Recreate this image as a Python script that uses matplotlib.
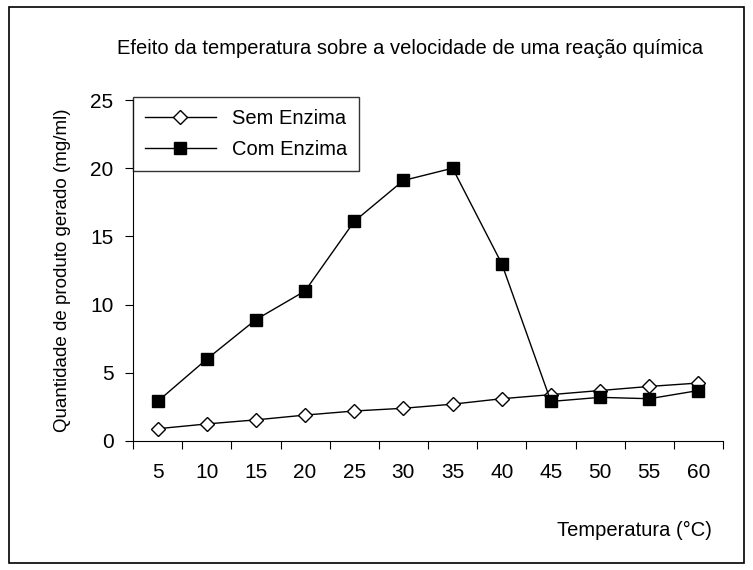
import matplotlib
matplotlib.use("Agg")
import matplotlib.pyplot as plt
import numpy as np

temps = [5, 10, 15, 20, 25, 30, 35, 40, 45, 50, 55, 60]
sem_enzima = [0.9, 1.25, 1.55, 1.9, 2.2, 2.4, 2.7, 3.1, 3.4, 3.7, 4.0, 4.25]
com_enzima = [2.9, 6.0, 8.9, 11.0, 16.1, 19.1, 20.0, 13.0, 2.9, 3.2, 3.1, 3.7]

plt.rcParams["font.family"] = ["Liberation Sans", "DejaVu Sans"]

fig = plt.figure(figsize=(7.53, 5.70), dpi=100)
fig.patches.append(plt.Rectangle((0.012, 0.012), 0.976, 0.976, transform=fig.transFigure,
                                 fill=False, edgecolor="black", linewidth=1.2))
ax = fig.add_axes([133 / 753, 1 - 441 / 570, 590 / 753, 341 / 570])

x = np.arange(len(temps))
ax.plot(x, sem_enzima, color="black", lw=1, marker="D", markersize=7,
        markerfacecolor="white", markeredgecolor="black", label="Sem Enzima")
ax.plot(x, com_enzima, color="black", lw=1, marker="s", markersize=9,
        markerfacecolor="black", label="Com Enzima")

ax.set_xlim(-0.5, len(temps) - 0.5)
ax.set_ylim(0, 25)
ax.set_yticks(range(0, 26, 5))
ax.set_xticks(np.arange(-0.5, len(temps), 1))
ax.set_xticklabels([])
ax.set_xticks(x, minor=True)
ax.set_xticklabels([str(t) for t in temps], minor=True)
ax.tick_params(axis="x", which="minor", length=0, pad=16, labelsize=15)
ax.tick_params(axis="x", which="major", length=6, direction="out")
ax.tick_params(axis="y", labelsize=15, direction="out", length=6, pad=8)
for s in ["top", "right"]:
    ax.spines[s].set_visible(False)

ax.set_ylabel("Quantidade de produto gerado (mg/ml)", fontsize=13.5, labelpad=14)
fig.text(712 / 753, 1 - 530 / 570, "Temperatura (°C)", fontsize=14.5, ha="right", va="center")
fig.text(410 / 753, 1 - 48 / 570, "Efeito da temperatura sobre a velocidade de uma reação química",
         fontsize=14.5, ha="center", va="center")

leg = ax.legend(loc="upper left", bbox_to_anchor=(0, 1.01), fontsize=14.5, frameon=True,
                fancybox=False, edgecolor="black", borderaxespad=0, handlelength=3.5,
                borderpad=0.6, labelspacing=0.6)
leg.get_frame().set_linewidth(1)

fig.savefig("out.png", dpi=100)
